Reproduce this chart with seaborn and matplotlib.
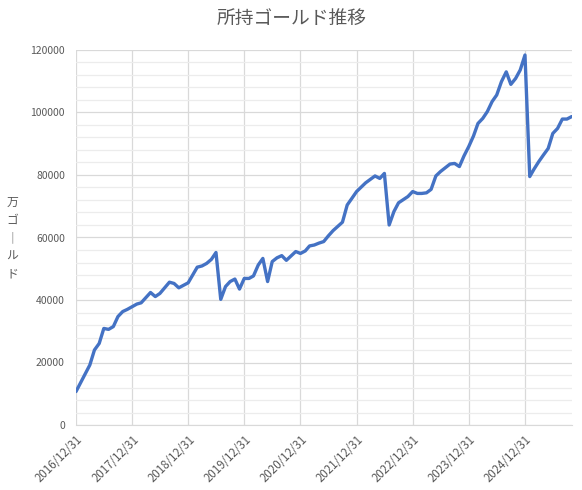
import pandas as pd
import matplotlib
matplotlib.use("Agg")
import matplotlib.pyplot as plt
from matplotlib.ticker import MultipleLocator, FuncFormatter
import seaborn as sns

# month-end dates (only where the line visibly bends) and gold held
dates = [
    "2016/12/31", "2017/03/31", "2017/04/30", "2017/05/31", "2017/06/30", "2017/07/31",
    "2017/08/31", "2017/09/30", "2017/10/31", "2017/11/30", "2018/01/31", "2018/02/28",
    "2018/04/30", "2018/05/31", "2018/06/30", "2018/08/31", "2018/09/30", "2018/10/31",
    "2018/12/31", "2019/02/28", "2019/03/31", "2019/04/30", "2019/05/31", "2019/06/30",
    "2019/07/31", "2019/08/31", "2019/09/30", "2019/10/31", "2019/11/30", "2019/12/31",
    "2020/01/31", "2020/02/29", "2020/03/31", "2020/04/30", "2020/05/31", "2020/06/30",
    "2020/07/31", "2020/08/31", "2020/09/30", "2020/11/30", "2020/12/31", "2021/01/31",
    "2021/02/28", "2021/03/31", "2021/04/30", "2021/05/31", "2021/06/30", "2021/07/31",
    "2021/09/30", "2021/10/31", "2021/11/30", "2021/12/31", "2022/02/28", "2022/04/30",
    "2022/05/31", "2022/06/30", "2022/07/31", "2022/08/31", "2022/09/30", "2022/11/30",
    "2022/12/31", "2023/01/31", "2023/02/28", "2023/03/31", "2023/04/30", "2023/05/31",
    "2023/06/30", "2023/08/31", "2023/09/30", "2023/10/31", "2023/11/30", "2023/12/31",
    "2024/01/31", "2024/02/29", "2024/03/31", "2024/04/30", "2024/05/31", "2024/06/30",
    "2024/07/31", "2024/08/31", "2024/09/30", "2024/10/31", "2024/11/30", "2024/12/31",
    "2025/01/31", "2025/02/28", "2025/03/31", "2025/04/30", "2025/05/31", "2025/06/30",
    "2025/07/31", "2025/08/31", "2025/09/30", "2025/10/31",
]
gold = [
    10700, 19200, 24000, 26100, 30900, 30600,
    31500, 34700, 36300, 37000, 38700, 39100,
    42400, 41100, 42100, 45700, 45300, 43900,
    45500, 50500, 50900, 51700, 53000, 55200,
    40200, 44300, 45900, 46700, 43500, 46900,
    46900, 47700, 51200, 53300, 45900, 52300,
    53500, 54200, 52700, 55500, 54900, 55700,
    57300, 57600, 58200, 58700, 60500, 62200,
    64900, 70400, 72500, 74700, 77500, 79700,
    78900, 80500, 64000, 68300, 71100, 73100,
    74700, 74100, 74100, 74300, 75400, 79700,
    81100, 83500, 83700, 82700, 86100, 89100,
    92500, 96500, 98100, 100300, 103500, 105600,
    109900, 113000, 109000, 110900, 113600, 118400,
    79500, 81900, 84300, 86400, 88500, 93300,
    94900, 97900, 97900, 98700,
]
tick_dates = ["2016/12/31", "2017/12/31", "2018/12/31", "2019/12/31", "2020/12/31",
              "2021/12/31", "2022/12/31", "2023/12/31", "2024/12/31"]

title = "所持ゴールド推移"
ylabel = "万\nゴ\n｜\nル\nド"

df = pd.DataFrame({"date": pd.to_datetime(dates, format="%Y/%m/%d"), "gold": gold})

sns.set_style("white")
plt.rcParams["font.family"] = ["Noto Sans CJK JP", "DejaVu Sans"]

text_color = "#595959"
fig = plt.figure(figsize=(5.82, 4.90), dpi=100)
ax = fig.add_axes([76 / 582, 65 / 490, (571.7 - 76) / 582, 375 / 490])

sns.lineplot(data=df, x="date", y="gold", ax=ax, color="#4472C4", linewidth=2.4)

ax.set_xlim(df["date"].iloc[0], df["date"].iloc[-1])
ax.set_ylim(0, 120000)
ax.yaxis.set_major_locator(MultipleLocator(20000))
ax.yaxis.set_minor_locator(MultipleLocator(4000))
ax.yaxis.set_major_formatter(FuncFormatter(lambda v, p: f"{int(v)}"))

ticks = pd.to_datetime(tick_dates, format="%Y/%m/%d")
ax.set_xticks(ticks)
ax.set_xticklabels(tick_dates, rotation=45, ha="right", rotation_mode="anchor")

ax.grid(which="major", axis="both", color="#d9d9d9", linewidth=0.9)
ax.grid(which="minor", axis="y", color="#ececec", linewidth=0.9)
ax.set_axisbelow(True)
for s in ["top", "right", "left"]:
    ax.spines[s].set_visible(False)
ax.spines["bottom"].set_color("#d9d9d9")

ax.tick_params(axis="both", which="both", length=0, colors=text_color)
ax.tick_params(axis="y", labelsize=7.5, pad=8)
ax.tick_params(axis="x", labelsize=8.3, pad=6)

ax.set_xlabel("")
ax.set_ylabel("")
fig.text(12 / 582, 1 - 238 / 490, ylabel, ha="center", va="center",
         fontsize=8.5, color=text_color, linespacing=1.5)
fig.text(292 / 582, 1 - 18 / 490, title, ha="center", va="center",
         fontsize=13.5, color=text_color)

fig.savefig("out.png", dpi=100)
